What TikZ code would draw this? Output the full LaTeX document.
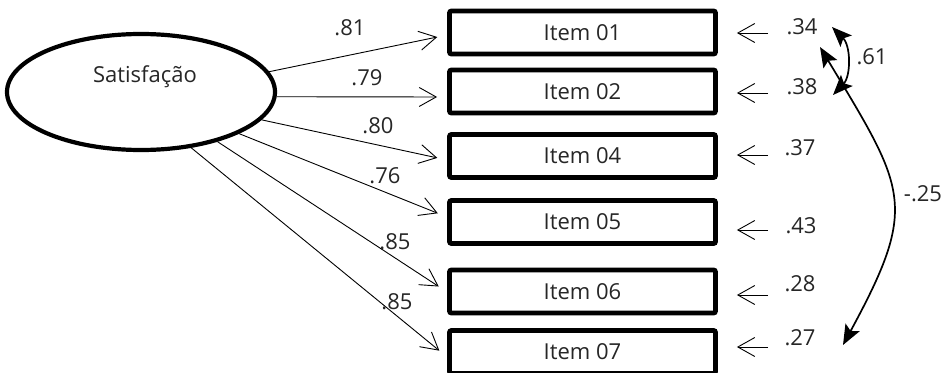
\documentclass[tikz,border=0pt]{standalone}
\usepackage{fontspec}
\setmainfont{Open Sans}
\usetikzlibrary{arrows.meta,shapes.geometric}
\begin{document}
\begin{tikzpicture}[x=1pt,y=-1pt,
  every node/.style={font=\fontsize{22}{26}\selectfont,text=black!85},
  latent/.style={ellipse,draw,line width=4.2pt,minimum width=268pt,minimum height=116pt,inner sep=0pt},
  itembox/.style={draw,line width=4.8pt,rounded corners=2pt,minimum width=266pt,minimum height=43pt,inner sep=0pt},
  load/.style={line width=0.9pt,-{Straight Barb[length=17pt,width=19pt,line width=0.9pt]},shorten >=10pt},
  res/.style={line width=0.9pt,-{Straight Barb[length=17pt,width=19pt,line width=0.9pt]},shorten >=19pt},
  cov/.style={line width=1.7pt,{Stealth[length=20pt,width=16pt,inset=4pt]}-{Stealth[length=20pt,width=16pt,inset=4pt]}},
  lbl/.style={inner sep=0pt}]
\useasboundingbox (0,0) rectangle (947,372);
% latent
\node[latent] (sat) at (141,92) {};
\node[lbl] (satt) at (145,77) {Satisfação};
% items
\node[itembox] (i01) at (582.5,32.5) {Item 01};
\node[itembox] (i02) at (582.5,91.5) {Item 02};
\node[itembox] (i04) at (582.5,156) {Item 04};
\node[itembox] (i05) at (582.5,222) {Item 05};
\node[itembox] (i06) at (582.5,291.5) {Item 06};
\node[itembox] (i07) at (582.5,352) {Item 07};
% loadings
\draw[load] (sat.9) -- ([yshift=-2.5pt]i01.west);
\draw[load] (sat.-2) -- ([yshift=-5.5pt]i02.west);
\draw[load] (sat.-13) -- ([yshift=-4pt]i04.west);
\draw[load] (sat.-23) -- ([yshift=5pt]i05.west);
\draw[load] (sat.-33) -- ([yshift=-0.5pt]i06.west);
\draw[load] (sat.-48) -- ([yshift=-5pt]i07.west);
\node[lbl] (l01) at (350,28) {.81};
\node[lbl] (l02) at (367,78) {.79};
\node[lbl] (l04) at (378,126) {.80};
\node[lbl] (l05) at (385,176) {.76};
\node[lbl] (l06) at (395,242) {.85};
\node[lbl] (l07) at (397,302) {.85};
% residuals
\coordinate (t01) at (768,33);
\coordinate (t02) at (768,93);
\coordinate (t04) at (768,155);
\coordinate (t05) at (768,230);
\coordinate (t06) at (768,295);
\coordinate (t07) at (768,347);
\draw[res] (t01) -- (t01 -| i01.east);
\draw[res] (t02) -- (t02 -| i02.east);
\draw[res] (t04) -- (t04 -| i04.east);
\draw[res] (t05) -- (t05 -| i05.east);
\draw[res] (t06) -- (t06 -| i06.east);
\draw[res] (t07) -- (t07 -| i07.east);
\node[lbl] (e01) at (802,27) {.34};
\node[lbl] (e02) at (802,87) {.38};
\node[lbl] (e04) at (800,148) {.37};
\node[lbl] (e05) at (801,226) {.43};
\node[lbl] (e06) at (800,284) {.28};
\node[lbl] (e07) at (800,338) {.27};
% covariances
\coordinate (c1a) at (832,27);
\coordinate (c1b) at (833,95);
\coordinate (c2a) at (820,47);
\coordinate (c2b) at (843,345);
\draw[cov] (c1a) .. controls (851,46) and (851,76) .. (c1b);
\draw[cov] (c2a) .. controls (906,190) and (919,205) .. (c2b);
\node[lbl] (k1) at (872,57) {.61};
\node[lbl] (k2) at (923,194) {-.25};
\end{tikzpicture}
\end{document}
